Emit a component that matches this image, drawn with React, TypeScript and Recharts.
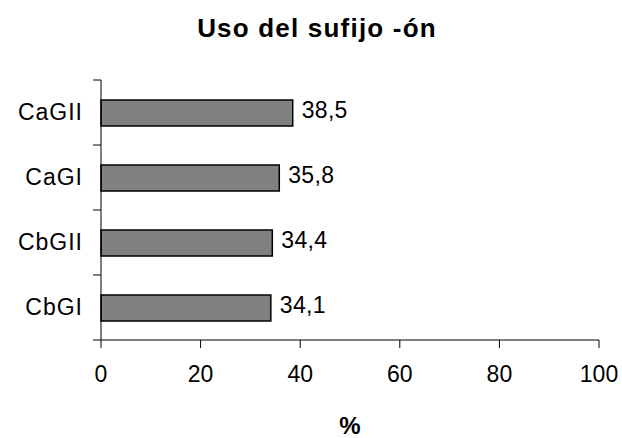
import React from 'react';
import { BarChart, Bar, XAxis, YAxis, LabelList, Label } from 'recharts';

const groups = ['CaGII', 'CaGI', 'CbGII', 'CbGI'];
const percentages = [38.5, 35.8, 34.4, 34.1];
const xTicks = [0, 20, 40, 60, 80, 100];

const data = groups.map((g, i) => ({ group: g, value: percentages[i] }));

const FONT = '"Liberation Sans", Arial, sans-serif';

// category tick: label at band centre, tick marks at band edges (Excel style)
const GroupTick = (props: any) => {
  const { x, y, payload, index } = props;
  const half = payload && payload.offset ? payload.offset : 32.5;
  const lx1 = x + 11;
  const lx2 = x + 19;
  return (
    <g>
      <line x1={lx1} x2={lx2} y1={y - half} y2={y - half} stroke="#000" />
      {index === groups.length - 1 && (
        <line x1={lx1} x2={lx2} y1={y + half} y2={y + half} stroke="#000" />
      )}
      <text
        x={x + 1}
        y={y}
        dy="0.34em"
        textAnchor="end"
        fill="#000"
        fontSize={23}
        letterSpacing={1}
        fontFamily={FONT}
      >
        {payload.value}
      </text>
    </g>
  );
};

const ValueLabel = (props: any) => {
  const { x, y, width, height, value } = props;
  return (
    <text
      x={x + width + 9}
      y={y + height / 2 - 3}
      dy="0.36em"
      fill="#000"
      fontSize={23}
      letterSpacing={0.3}
      fontFamily={FONT}
    >
      {String(value).replace('.', ',')}
    </text>
  );
};

export default function App() {
  return (
    <div style={{ position: 'absolute', left: 0, top: 0, width: 622, height: 438, background: '#fff' }}>
      <div
        style={{
          position: 'absolute',
          left: 0,
          width: 622,
          paddingLeft: 12,
          boxSizing: 'border-box',
          top: 13,
          lineHeight: 'normal',
          textAlign: 'center',
          fontFamily: FONT,
          fontWeight: 'bold',
          fontSize: 26,
          letterSpacing: 1.2,
          color: '#000',
        }}
      >
        Uso del sufijo -ón
      </div>
      <BarChart
        width={622}
        height={438}
        data={data}
        layout="vertical"
        margin={{ top: 80, right: 23, bottom: 0, left: 0 }}
        barCategoryGap="20%"
      >
        <XAxis
          type="number"
          domain={[0, 100]}
          ticks={xTicks}
          interval={0}
          height={98}
          tickSize={8}
          tickMargin={18}
          stroke="#000"
          tick={{ fill: '#000', fontSize: 23, fontFamily: FONT }}
        >
          <Label
            value="%"
            position="insideBottom"
            offset={4}
            style={{ fill: '#000', fontSize: 24, fontWeight: 'bold', fontFamily: FONT }}
          />
        </XAxis>
        <YAxis
          type="category"
          dataKey="group"
          width={101}
          tickSize={8}
          tickMargin={11}
          tickLine={false}
          stroke="#000"
          tick={<GroupTick />}
        />
        <Bar dataKey="value" fill="#808080" stroke="#000" strokeWidth={1.5} barSize={26} isAnimationActive={false}>
          <LabelList dataKey="value" content={<ValueLabel />} />
        </Bar>
      </BarChart>
    </div>
  );
}
